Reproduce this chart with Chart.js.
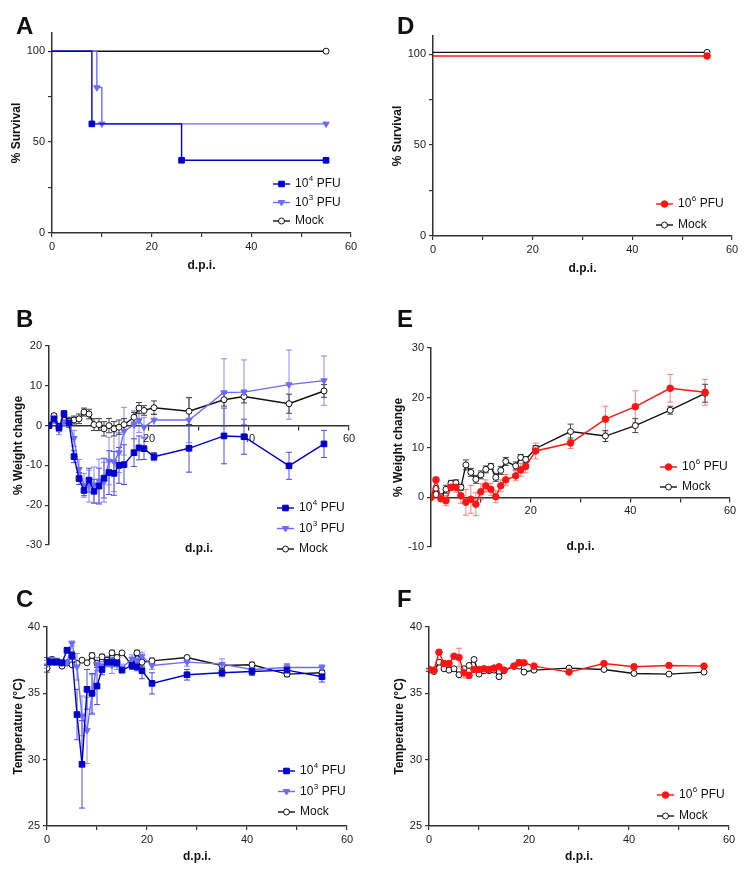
<!DOCTYPE html>
<html lang="en">
<head>
<meta charset="UTF-8">
<title>Survival, weight and temperature after infection</title>
<script src="https://cdn.jsdelivr.net/npm/chart.js"></script>
<style>
    body { margin: 0; background: #fff; }
    .fig { position: relative; width: 746px; height: 869px; font-family: "Liberation Sans", Arial, sans-serif; }
    .fig canvas { position: absolute; }
    .tag { position: absolute; font-weight: bold; font-size: 24px; line-height: 1; color: #111; }
</style>
</head>
<body>
<div class="fig">
    <canvas id="panelA" width="373" height="280" style="left:0;top:0"></canvas>
    <canvas id="panelD" width="373" height="280" style="left:373px;top:0"></canvas>
    <canvas id="panelB" width="373" height="295" style="left:0;top:280px"></canvas>
    <canvas id="panelE" width="373" height="295" style="left:373px;top:280px"></canvas>
    <canvas id="panelC" width="373" height="289" style="left:0;top:580px"></canvas>
    <canvas id="panelF" width="373" height="289" style="left:373px;top:580px"></canvas>
    <div class="tag" style="left:16px;top:14px">A</div>
    <div class="tag" style="left:397px;top:14px">D</div>
    <div class="tag" style="left:16px;top:307px">B</div>
    <div class="tag" style="left:397px;top:307px">E</div>
    <div class="tag" style="left:16px;top:587px">C</div>
    <div class="tag" style="left:397px;top:587px">F</div>
</div>

<script>
    // survival (Kaplan-Meier steps)
    const survDays104 = [0, 8, 26, 55];
    const surv104 = [100, 60, 40, 40];
    const survDays103 = [0, 9, 10, 55];
    const surv103 = [100, 80, 60, 60];
    const survDaysMock = [0, 55];
    const survMock = [100, 100];
    const survDays106 = [0, 55];
    const surv106 = [99, 99];
    const survMockD = [101, 101];

    // weight change, left column
    const daysB = [0, 1, 2, 3, 4, 5, 6, 7, 8, 9, 10, 11, 12, 13, 14, 15, 17, 18, 19, 21, 28, 35, 39, 48, 55];
    const weight104 = [0, 1.7, -0.5, 3.0, 0.7, -7.8, -13.3, -16.3, -13.7, -16.5, -15.2, -13.2, -11.8, -12, -10, -9.8, -6.8, -5.6, -5.8, -7.8, -5.7, -2.6, -2.8, -10.1, -4.6];
    const weight104Err = [0, 0.5, 1, 0.7, 1.2, 1.5, 1.5, 1.3, 3, 3, 4.5, 5, 5.5, 5.5, 4.5, 5, 3.5, 3, 2.7, 1, 6, 7, 4.4, 3.4, 3.4];
    const weight103 = [0, 1.4, -1.1, 1.0, 0.8, -3.2, -11, -15, -15.2, -14.9, -13.9, -14.2, -8.9, -9.1, -6.8, -1.4, 0.2, 1.3, -0.4, 1.4, 1.4, 8.3, 8.4, 10.3, 11.3];
    const weight103Err = [0, 0.8, 1.2, 1, 1, 2, 2.5, 3, 4, 4.5, 5.5, 5, 6, 7.5, 5, 6, 3.5, 3, 2.5, 1.5, 5.7, 8.5, 8.1, 8.7, 6.2];
    const weightMockB = [0, 2.5, -0.2, 1.3, 1.1, 1.4, 1.7, 3.4, 2.9, 0.25, 0.25, -0.8, 0, -0.8, -0.4, 0.25, 2.1, 4.4, 3.8, 4.5, 3.6, 6.5, 7.3, 5.5, 8.7];
    const weightMockBErr = [0, 0.5, 0.8, 0.8, 1, 1, 1.2, 1, 1.2, 1.5, 1.5, 1.8, 1.8, 1.8, 1.8, 1.5, 1.2, 1.4, 1.2, 1.7, 3.4, 1.6, 1.6, 2.4, 1.6];

    // weight change, right column
    const daysE = [0, 1, 2, 3, 4, 5, 6, 7, 8, 9, 10, 11, 12, 13, 14, 15, 17, 18, 19, 21, 28, 35, 41, 48, 55];
    const weight106 = [0, 3.5, -0.3, -0.7, 2, 2, 0.3, -1, -0.4, -1.4, 1.1, 2.3, 1.6, 0.1, 2.3, 3.5, 4.3, 5.5, 6.2, 9.3, 10.9, 15.7, 18.2, 21.9, 21.1];
    const weight106Err = [0, 0.5, 0.5, 1, 0.7, 1, 1.5, 2.6, 2.8, 2.3, 1.6, 1.2, 1.2, 1.2, 1.2, 1.1, 1, 1.3, 1.3, 1.6, 1.1, 2.6, 3.2, 2.8, 2.6];
    const weightMockE = [0, 1.8, 0.1, 1.6, 2.8, 2.9, 2, 6.5, 5, 3.6, 4.5, 5.6, 6.2, 4, 5.4, 7.2, 6.3, 8, 7.6, 9.8, 13.2, 12.3, 14.4, 17.5, 20.9];
    const weightMockEErr = [0, 0.5, 0.5, 0.8, 0.6, 0.6, 0.6, 1, 0.8, 0.8, 0.8, 0.7, 0.6, 0.8, 0.8, 0.8, 0.8, 0.6, 0.6, 0.6, 1.5, 1.1, 1.4, 0.8, 1.8];

    // temperature
    const daysT = [0, 1, 2, 3, 4, 5, 6, 7, 8, 9, 10, 11, 12, 13, 14, 15, 17, 18, 19, 21, 28, 35, 41, 48, 55];
    const temp104 = [37.4, 37.35, 37.35, 37.3, 38.25, 37.85, 33.4, 29.65, 35.3, 35.0, 35.55, 36.8, 37.35, 37.35, 37.3, 36.75, 37.1, 37.0, 36.7, 35.75, 36.4, 36.55, 36.65, 36.75, 36.25];
    const temp104Err = [0.3, 0.2, 0.2, 0.2, 0.2, 0.3, 1.9, 3.3, 1.5, 1.5, 1.4, 0.4, 0.3, 0.3, 0.3, 0.2, 0.3, 0.3, 0.6, 0.8, 0.4, 0.3, 0.3, 0.4, 0.4];
    const temp103 = [37.2, 37.55, 37.45, 37.3, 37.3, 38.75, 37.0, 33.3, 32.2, 34.9, 37.2, 37.0, 37.4, 37.1, 37.2, 36.9, 37.6, 37.5, 37.8, 37.1, 37.35, 37.2, 36.8, 36.95, 36.95];
    const temp103Err = [0.3, 0.2, 0.2, 0.2, 0.2, 0.2, 1.0, 1.5, 2.5, 1.5, 0.5, 0.4, 0.4, 0.6, 0.4, 0.3, 0.3, 0.3, 0.3, 0.3, 0.3, 0.4, 0.3, 0.3, 0.2];
    const tempMockC = [36.9, 37.55, 37.4, 37.05, 37.3, 37.15, 37.25, 37.5, 37.3, 37.85, 37.25, 37.75, 37.5, 38.05, 37.7, 38.05, 37.1, 38.05, 37.35, 37.45, 37.7, 37.1, 37.15, 36.45, 36.55];
    const tempMockCErr = [0.3, 0.1, 0.1, 0.1, 0.1, 0.1, 0.1, 0.1, 0.1, 0.2, 0.1, 0.2, 0.2, 0.2, 0.2, 0.1, 0.2, 0.2, 0.3, 0.2, 0.1, 0.2, 0.2, 0.2, 0.2];
    const temp106 = [36.8, 36.75, 38.1, 37.25, 37.25, 37.8, 37.7, 36.55, 36.35, 36.8, 36.8, 36.85, 36.8, 36.9, 37.0, 36.75, 37.05, 37.3, 37.3, 37.05, 36.6, 37.25, 37.0, 37.1, 37.05];
    const temp106Err = [0.1, 0.1, 0.15, 0.1, 0.1, 0.1, 0.7, 0.4, 0.2, 0.1, 0.1, 0.1, 0.1, 0.1, 0.1, 0.1, 0.1, 0.25, 0.1, 0.1, 0.1, 0.1, 0.2, 0.1, 0.1];
    const tempMockF = [36.75, 36.65, 37.35, 36.85, 36.75, 36.85, 36.4, 36.85, 37.1, 37.55, 36.45, 36.7, 36.7, 36.75, 36.25, 36.7, 37.05, 37.05, 36.6, 36.75, 36.9, 36.8, 36.5, 36.45, 36.6];
    const tempMockFErr = [0.1, 0.1, 0.1, 0.1, 0.1, 0.1, 0.1, 0.1, 0.1, 0.1, 0.1, 0.1, 0.1, 0.1, 0.1, 0.1, 0.1, 0.1, 0.1, 0.1, 0.1, 0.1, 0.15, 0.1, 0.1];

    const xTicks = [0, 10, 20, 30, 40, 50, 60];
    const survTicks = [0, 25, 50, 75, 100];

    const FONT = '"Liberation Sans", Arial, sans-serif';
    const axisColor = '#333';

    const look104 = { borderColor: '#0000cd', pointBackgroundColor: '#0000cd', pointBorderColor: '#0000cd', pointStyle: 'rect', pointRadius: 4, errColor: 'rgba(20,20,210,0.75)' };
    const look103 = { borderColor: '#6b6bff', pointBackgroundColor: '#6b6bff', pointBorderColor: '#6b6bff', pointStyle: 'triangle', pointRotation: 180, pointRadius: 3.6, errColor: 'rgba(107,107,255,0.8)' };
    const look106 = { borderColor: '#ff1414', pointBackgroundColor: '#ff1414', pointBorderColor: '#ff1414', pointStyle: 'circle', pointRadius: 3.3, errColor: 'rgba(255,60,60,0.65)' };
    const lookMock = { borderColor: '#111', pointBackgroundColor: '#fff', pointBorderColor: '#111', pointStyle: 'circle', pointRadius: 3, errColor: '#444' };

    function series(xs, ys, errs, look, extra) {
        return Object.assign({
            data: xs.map((x, i) => ({ x: x, y: ys[i] })),
            err: errs,
            borderWidth: 1.4,
            pointBorderWidth: 1,
            tension: 0
        }, look, extra || {});
    }

    function survival(xs, ys, look) {
        return series(xs, ys, null, look, {
            stepped: true,
            pointRadius: xs.map((x, i) => i === 0 ? 0 : look.pointRadius)
        });
    }

    function drawMarker(ctx, look, x, y) {
        ctx.beginPath();
        if (look.pointStyle === 'rect') {
            ctx.rect(x - 2.8, y - 2.8, 5.6, 5.6);
        } else if (look.pointStyle === 'triangle') {
            ctx.moveTo(x - 3.2, y - 2);
            ctx.lineTo(x + 3.2, y - 2);
            ctx.lineTo(x, y + 3.4);
            ctx.closePath();
        } else {
            ctx.arc(x, y, look.pointRadius, 0, Math.PI * 2);
        }
        ctx.fillStyle = look.pointBackgroundColor;
        ctx.fill();
        ctx.lineWidth = 1;
        ctx.strokeStyle = look.pointBorderColor;
        ctx.stroke();
    }

    // mean +/- error bars with caps, drawn from each dataset's err array
    const errorBars = {
        id: 'errorBars',
        beforeDatasetsDraw(chart) {
            const ctx = chart.ctx;
            const yScale = chart.scales.y;
            chart.data.datasets.forEach((ds, i) => {
                if (!ds.err) return;
                const meta = chart.getDatasetMeta(i);
                ctx.save();
                ctx.strokeStyle = ds.errColor;
                ctx.lineWidth = 1;
                meta.data.forEach((pt, j) => {
                    const e = ds.err[j];
                    if (!e) return;
                    const v = ds.data[j].y;
                    const top = yScale.getPixelForValue(v + e);
                    const bot = yScale.getPixelForValue(v - e);
                    ctx.beginPath();
                    ctx.moveTo(pt.x, top);
                    ctx.lineTo(pt.x, bot);
                    ctx.moveTo(pt.x - 3, top);
                    ctx.lineTo(pt.x + 3, top);
                    ctx.moveTo(pt.x - 3, bot);
                    ctx.lineTo(pt.x + 3, bot);
                    ctx.stroke();
                });
                ctx.restore();
            });
        }
    };

    // GraphPad style legend inside the plot, with superscript doses
    const panelLegend = {
        id: 'panelLegend',
        afterDraw(chart, args, opts) {
            const ctx = chart.ctx;
            opts.items.forEach((it, i) => {
                const x = opts.x;
                const y = opts.y + i * opts.gap;
                ctx.save();
                ctx.strokeStyle = it.look.borderColor;
                ctx.lineWidth = 1.4;
                ctx.beginPath();
                ctx.moveTo(x, y);
                ctx.lineTo(x + 17, y);
                ctx.stroke();
                drawMarker(ctx, it.look, x + 8.5, y);
                ctx.fillStyle = '#111';
                ctx.textBaseline = 'middle';
                ctx.font = '12px ' + FONT;
                let tx = x + 22;
                ctx.fillText(it.text, tx, y);
                if (it.sup) {
                    tx += ctx.measureText(it.text).width + 0.5;
                    ctx.font = '8px ' + FONT;
                    ctx.fillText(it.sup, tx, y - 5);
                    tx += ctx.measureText(it.sup).width;
                    ctx.font = '12px ' + FONT;
                    ctx.fillText(it.rest, tx, y);
                }
                ctx.restore();
            });
        }
    };

    const xTitle = {
        id: 'xTitle',
        afterDraw(chart, args, opts) {
            const a = chart.chartArea;
            const ctx = chart.ctx;
            ctx.save();
            ctx.font = 'bold 12px ' + FONT;
            ctx.fillStyle = '#111';
            ctx.textAlign = 'center';
            ctx.textBaseline = 'middle';
            ctx.fillText(opts.text, (a.left + a.right) / 2, a.bottom + opts.offset);
            ctx.restore();
        }
    };

    function makePanel(id, p) {
        const atZero = !!p.xAtZero;
        return new Chart(document.getElementById(id), {
            type: 'line',
            data: { datasets: p.datasets },
            options: {
                responsive: false,
                animation: false,
                layout: { padding: { left: 0, top: p.top, right: p.w - p.right, bottom: atZero ? p.h - p.bottom : 0 } },
                plugins: {
                    legend: { display: false },
                    tooltip: { enabled: false },
                    panelLegend: p.legend,
                    xTitle: { text: 'd.p.i.', offset: p.titleOffset }
                },
                scales: {
                    x: {
                        type: 'linear',
                        min: 0,
                        max: 60,
                        position: atZero ? { y: 0 } : 'bottom',
                        afterFit: s => { s.height = p.h - p.bottom; },
                        afterBuildTicks: s => { s.ticks = xTicks.map(v => ({ value: v })); },
                        ticks: {
                            autoSkip: false,
                            maxRotation: 0,
                            padding: 3,
                            color: '#222',
                            font: { family: FONT, size: 11 },
                            callback: v => (v % 20 === 0 && !(atZero && v === 0)) ? v : ''
                        },
                        grid: { drawOnChartArea: false, tickLength: 4, color: axisColor, lineWidth: 1.2 },
                        border: { color: axisColor, width: 1.5 }
                    },
                    y: {
                        type: 'linear',
                        min: p.yMin,
                        max: p.yMax,
                        afterFit: s => { s.width = p.left; },
                        afterBuildTicks: p.yTicks ? (s => { s.ticks = p.yTicks.map(v => ({ value: v })); }) : undefined,
                        ticks: {
                            stepSize: p.yStep,
                            padding: 3,
                            color: '#222',
                            font: { family: FONT, size: 11 },
                            callback: p.yLabel || (v => v)
                        },
                        grid: { drawOnChartArea: false, tickLength: 4, color: axisColor, lineWidth: 1.2 },
                        border: { color: axisColor, width: 1.5 },
                        title: {
                            display: true,
                            text: p.yTitle,
                            color: '#111',
                            font: { family: FONT, size: 12, weight: 'bold' },
                            padding: { top: p.yTitlePad, bottom: 0 }
                        }
                    }
                }
            },
            plugins: [errorBars, panelLegend, xTitle]
        });
    }

    const item104 = { look: look104, text: '10', sup: '4', rest: ' PFU' };
    const item103 = { look: look103, text: '10', sup: '3', rest: ' PFU' };
    const item106 = { look: look106, text: '10', sup: '6', rest: ' PFU' };
    const itemMock = { look: lookMock, text: 'Mock' };
    const survLabel = v => v % 50 === 0 ? v : '';

    makePanel('panelA', {
        w: 373, h: 280, left: 52, right: 351, top: 33, bottom: 233,
        yMin: 0, yMax: 110, yTicks: survTicks, yLabel: survLabel,
        yTitle: '% Survival', yTitlePad: 9, titleOffset: 33,
        legend: { x: 273, y: 184, gap: 18.5, items: [item104, item103, itemMock] },
        datasets: [
            survival(survDays104, surv104, look104),
            survival(survDays103, surv103, look103),
            survival(survDaysMock, survMock, lookMock)
        ]
    });

    makePanel('panelD', {
        w: 373, h: 280, left: 60, right: 359, top: 36, bottom: 236,
        yMin: 0, yMax: 110, yTicks: survTicks, yLabel: survLabel,
        yTitle: '% Survival', yTitlePad: 17, titleOffset: 33,
        legend: { x: 283, y: 204, gap: 21, items: [item106, itemMock] },
        datasets: [
            survival(survDays106, surv106, look106),
            survival(survDays106, survMockD, lookMock)
        ]
    });

    makePanel('panelB', {
        w: 373, h: 295, left: 49, right: 349, top: 66, bottom: 265, xAtZero: true,
        yMin: -30, yMax: 20, yStep: 10,
        yTitle: '% Weight change', yTitlePad: 11, titleOffset: 4,
        legend: { x: 277, y: 228, gap: 20.5, items: [item104, item103, itemMock] },
        datasets: [
            series(daysB, weight104, weight104Err, look104),
            series(daysB, weight103, weight103Err, look103),
            series(daysB, weightMockB, weightMockBErr, lookMock)
        ]
    });

    makePanel('panelE', {
        w: 373, h: 295, left: 58, right: 357, top: 68, bottom: 267, xAtZero: true,
        yMin: -10, yMax: 30, yStep: 10,
        yTitle: '% Weight change', yTitlePad: 18, titleOffset: 0,
        legend: { x: 287, y: 187, gap: 20, items: [item106, itemMock] },
        datasets: [
            series(daysE, weight106, weight106Err, look106),
            series(daysE, weightMockE, weightMockEErr, lookMock)
        ]
    });

    makePanel('panelC', {
        w: 373, h: 289, left: 47, right: 347, top: 47, bottom: 246,
        yMin: 25, yMax: 40, yStep: 5,
        yTitle: 'Temperature (°C)', yTitlePad: 11, titleOffset: 31,
        legend: { x: 278, y: 191, gap: 20.5, items: [item104, item103, itemMock] },
        datasets: [
            series(daysT, temp104, temp104Err, look104),
            series(daysT, temp103, temp103Err, look103),
            series(daysT, tempMockC, tempMockCErr, lookMock)
        ]
    });

    makePanel('panelF', {
        w: 373, h: 289, left: 56, right: 356, top: 47, bottom: 246,
        yMin: 25, yMax: 40, yStep: 5,
        yTitle: 'Temperature (°C)', yTitlePad: 19, titleOffset: 31,
        legend: { x: 284, y: 215, gap: 21, items: [item106, itemMock] },
        datasets: [
            series(daysT, temp106, temp106Err, look106),
            series(daysT, tempMockF, tempMockFErr, lookMock)
        ]
    });
</script>
</body>
</html>
